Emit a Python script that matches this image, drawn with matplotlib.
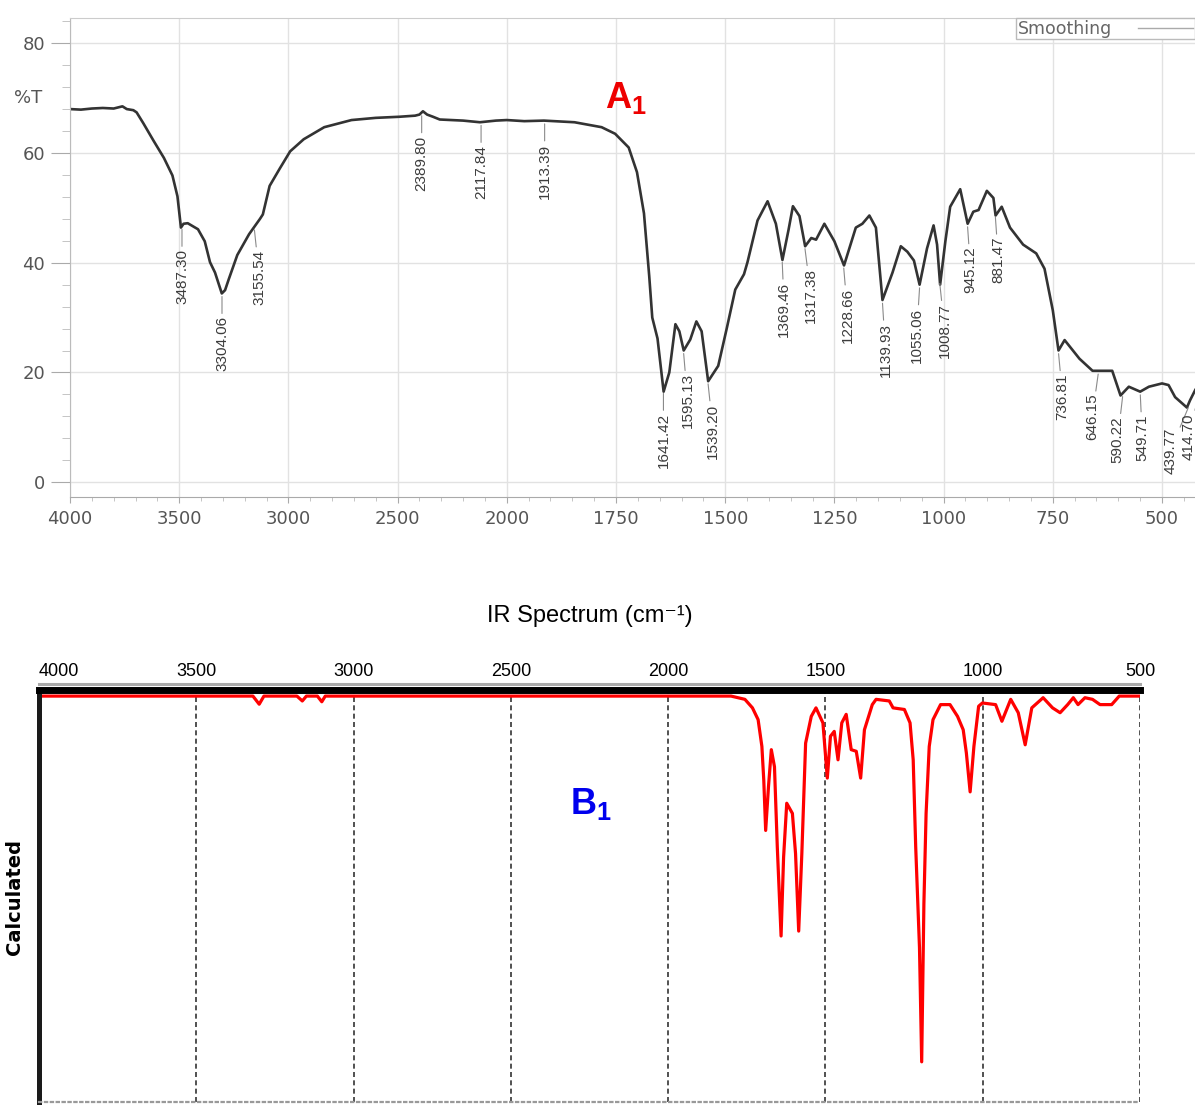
import matplotlib
matplotlib.use("Agg")
import matplotlib.pyplot as plt
import numpy as np
from matplotlib.lines import Line2D
from matplotlib.ticker import FixedLocator, MultipleLocator

plt.rcParams['mathtext.fontset'] = 'custom'
plt.rcParams['mathtext.rm'] = 'Liberation Sans'
plt.rcParams['mathtext.bf'] = 'Liberation Sans:bold'

NARROW = ['Liberation Sans', 'DejaVu Sans']
W, H = 1195, 1106

# --- A1: measured FTIR spectrum (%T) ---
a_wn = [4000, 3950, 3900, 3850, 3800, 3760, 3740, 3710, 3695, 3664, 3617, 3570,
        3531, 3508, 3492, 3480, 3461, 3414, 3383, 3359, 3336, 3305, 3290, 3273,
        3234, 3180, 3155, 3130, 3117, 3086, 3039, 2992, 2930, 2836, 2711, 2600,
        2492, 2420, 2400, 2384, 2365, 2338, 2307, 2200, 2123, 2050, 2000, 1960,
        1915, 1845, 1783, 1752, 1721, 1702, 1686, 1674, 1667, 1655, 1641, 1628,
        1614, 1605, 1595, 1580, 1566, 1554, 1539, 1516, 1496, 1477, 1457, 1449,
        1426, 1403, 1384, 1369, 1355, 1345, 1330, 1317, 1303, 1292, 1273, 1250,
        1228, 1201, 1186, 1170, 1155, 1140, 1117, 1098, 1083, 1068, 1055, 1038,
        1023, 1015, 1008, 996, 985, 962, 945, 932, 920, 901, 886, 881,
        867, 848, 818, 788, 769, 750, 737, 723, 689, 659, 636, 614,
        595, 576, 550, 530, 500, 485, 470, 443, 436, 424]
a_T = [68.0, 67.9, 68.1, 68.2, 68.1, 68.5, 68.0, 67.8, 67.4, 65.4, 62.2, 59.1,
       55.9, 52.1, 46.4, 47.1, 47.2, 46.1, 43.9, 40.1, 38.2, 34.4, 35.0, 37.0,
       41.4, 45.2, 46.6, 48.0, 48.8, 54.0, 57.2, 60.3, 62.5, 64.7, 66.0, 66.4,
       66.6, 66.8, 67.0, 67.6, 67.0, 66.6, 66.1, 65.9, 65.6, 65.9, 66.0, 65.8,
       65.9, 65.6, 64.7, 63.5, 61.0, 56.5, 49.0, 37.6, 30.0, 26.2, 16.5, 20.0,
       28.8, 27.5, 24.0, 26.0, 29.3, 27.5, 18.4, 21.2, 28.2, 35.1, 37.9, 40.1,
       47.7, 51.2, 47.1, 40.5, 46.0, 50.3, 48.5, 43.0, 44.5, 44.2, 47.1, 43.9,
       39.5, 46.4, 47.1, 48.6, 46.4, 33.2, 38.2, 43.0, 42.0, 40.4, 36.0, 42.6,
       46.8, 43.3, 36.0, 43.9, 50.2, 53.4, 47.1, 49.3, 49.6, 53.1, 51.8, 48.6,
       50.2, 46.4, 43.3, 41.7, 38.9, 31.3, 24.0, 25.9, 22.5, 20.3, 20.3, 20.3,
       15.8, 17.4, 16.5, 17.4, 18.0, 17.7, 15.5, 13.6, 14.9, 16.8]

peak_wn = [3487.30, 3304.06, 3155.54, 2389.80, 2117.84, 1913.39, 1641.42, 1595.13,
           1539.20, 1369.46, 1317.38, 1228.66, 1139.93, 1055.06, 1008.77, 945.12,
           881.47, 736.81, 646.15, 590.22, 549.71, 439.77, 414.70]
# horizontal nudge of each label, in pixels
label_dx = [0, 0, 5, 0, 0, 0, 0, 4, 5, 2, 6, 4, 3, -3, 5, 3, 3, 4, -6, -5, 2, -18, -11]

# --- B1: calculated IR spectrum ---
b_wn = [4000, 3320, 3300, 3285, 3180, 3163, 3150, 3115, 3101, 3090, 1800, 1756,
        1732, 1714, 1702, 1696, 1690, 1681, 1672, 1662, 1653, 1641, 1633, 1623,
        1605, 1595, 1585, 1575, 1563, 1545, 1530, 1508, 1494, 1484, 1472, 1460,
        1448, 1434, 1418, 1402, 1388, 1376, 1351, 1339, 1297, 1285, 1249, 1231,
        1221, 1213, 1201, 1194, 1187, 1180, 1170, 1158, 1134, 1104, 1080, 1062,
        1052, 1040, 1028, 1013, 1001, 959, 939, 911, 887, 865, 844, 808,
        778, 754, 730, 712, 697, 675, 651, 627, 590, 566, 500]
b_int = [0, 0, 2.0, 0, 0, 1.2, 0, 0, 1.4, 0, 0, 0.8,
         2.9, 5.8, 12.4, 20.7, 33.1, 22.3, 13.2, 17.4, 37.2, 59.1, 39.7, 26.4,
         28.9, 38.8, 57.9, 38.8, 11.6, 5.0, 2.9, 6.6, 20.2, 9.9, 8.7, 15.7,
         6.6, 4.5, 13.2, 13.6, 20.2, 8.3, 2.1, 0.8, 1.2, 2.9, 3.3, 6.6,
         15.7, 37.2, 62.0, 90.1, 51.2, 28.9, 12.4, 5.8, 2.1, 2.1, 5.0, 8.3,
         14.0, 23.6, 12.4, 2.5, 1.7, 2.1, 6.2, 0.8, 4.1, 12.0, 2.9, 0.4,
         2.9, 4.1, 2.1, 0.4, 2.1, 0.4, 0.8, 2.1, 2.1, 0, 0]

a_major = [4000, 3500, 3000, 2500, 2000, 1750, 1500, 1250, 1000, 750, 500]
a_minor = list(range(4000, 2000, -100)) + list(range(2000, 400, -50))
b_major = [4000, 3500, 3000, 2500, 2000, 1500, 1000, 500]


def fwd(w):
    w = np.asarray(w, float)
    return np.where(w >= 2000, w, 2 * w - 2000)


def inv(u):
    u = np.asarray(u, float)
    return np.where(u >= 2000, u, (u + 2000) / 2)


fig = plt.figure(figsize=(W / 100, H / 100), dpi=100)

# ---------------- top panel ----------------
ax1 = fig.add_axes([70 / W, 1 - 497 / H, (W - 70) / W, (497 - 18) / H])
ax1.set_xscale('function', functions=(fwd, inv))
ax1.plot(a_wn, a_T, color='#333333', lw=1.9, label='Smoothing')
ax1.set_xlim(4000, 424.5)
ax1.set_ylim(-2.7, 84.6)

ax1.xaxis.set_major_locator(FixedLocator(a_major))
ax1.xaxis.set_minor_locator(FixedLocator(a_minor))
ax1.yaxis.set_major_locator(FixedLocator([0, 20, 40, 60, 80]))
ax1.yaxis.set_minor_locator(MultipleLocator(4))
ax1.xaxis.set_major_formatter(matplotlib.ticker.FuncFormatter(lambda v, p: f"{v:.0f}"))

ax1.grid(True, which='major', color='#e2e2e2', lw=1)
for t in ax1.xaxis.get_major_ticks():
    if abs(t.get_loc() - 2000) < 1:
        t.gridline.set_color('#a0a0a0')
        t.gridline.set_linewidth(1.2)

ax1.tick_params(axis='y', which='major', length=14, pad=4, color='#aaaaaa',
                labelsize=13, labelcolor='#555555')
ax1.tick_params(axis='y', which='minor', length=6, color='#bbbbbb')
ax1.tick_params(axis='x', which='major', length=4, pad=5.5, color='#aaaaaa',
                labelsize=13, labelcolor='#555555')
ax1.tick_params(axis='x', which='minor', length=3, color='#bbbbbb')
ax1.spines['left'].set_color('#bbbbbb')
ax1.spines['top'].set_color('#cccccc')
ax1.spines['bottom'].set_color('#aaaaaa')
ax1.spines['right'].set_visible(False)

ax1.text(-0.0373, 70, '%T', transform=ax1.get_yaxis_transform(), ha='center',
         va='center', color='#555555', fontsize=13)

order = np.argsort(a_wn)
wn_sorted = np.asarray(a_wn, float)[order]
t_sorted = np.asarray(a_T, float)[order]
for p, dx in zip(peak_wn, label_dx):
    tc = np.interp(p, wn_sorted, t_sorted)
    ax1.annotate(f"{p:.2f}", xy=(p, tc - 0.6), xytext=(dx * 0.72, -14.2),
                 textcoords='offset points', rotation=90, ha='center', va='top',
                 fontsize=11, family=NARROW, color='#3c3c3c',
                 annotation_clip=False,
                 arrowprops=dict(arrowstyle='-', color='#8a8a8a', lw=0.8,
                                 shrinkA=0, shrinkB=0))

ax1.text(1775, 68.2, r'$\mathbf{A_1}$', color='#ee0000', fontsize=26,
         ha='left', va='baseline')

ax1.legend(handles=[Line2D([], [], color='#aaaaaa', lw=1)], labels=['Smoothing'],
           loc='upper right', bbox_to_anchor=(1.0, 1.0), borderaxespad=0,
           markerfirst=False, fancybox=False, edgecolor='#bbbbbb', framealpha=1,
           fontsize=12.5, labelcolor='#666666', handlelength=3.2, borderpad=0.1,
           handletextpad=1.5)

# ---------------- bottom panel ----------------
ax2 = fig.add_axes([39 / W, 1 - 1102 / H, (1140 - 39) / W, (1102 - 690) / H])
ax2.plot(b_wn, b_int, color='#ff0000', lw=2.3)
ax2.set_xlim(4000, 500)
ax2.set_ylim(100, -1.5)
ax2.xaxis.tick_top()
ax2.xaxis.set_label_position('top')
ax2.set_xticks(b_major)
ax2.set_yticks([])
ax2.tick_params(axis='x', length=0, pad=7, labelsize=13, labelcolor='black')
for lab in ax2.get_xticklabels():
    lab.set_fontfamily(NARROW)
ax2.get_xticklabels()[0].set_ha('left')
ax2.grid(True, axis='x', color='#333333', ls=(0, (3, 2)), lw=1.2)

ax2.spines['left'].set_color('#1a1a1a')
ax2.spines['left'].set_linewidth(3.6)
ax2.spines['top'].set_color('black')
ax2.spines['top'].set_linewidth(5)
ax2.spines['right'].set_visible(False)
ax2.spines['bottom'].set_color('#999999')
ax2.spines['bottom'].set_linewidth(1.6)
ax2.spines['bottom'].set_linestyle(':')
ax2.add_line(Line2D([0, 1], [1.0146, 1.0146], transform=ax2.transAxes,
                    color='#aaaaaa', lw=2.2, clip_on=False))

ax2.set_xlabel('IR Spectrum (cm⁻¹)', fontsize=17, family=NARROW, labelpad=30)
ax2.set_ylabel('Calculated', fontsize=14, fontweight='bold')
ax2.yaxis.set_label_coords(-0.0136, 0.4976)

ax2.text(2312, 29.1, r'$\mathbf{B_1}$', color='#0000ee', fontsize=26,
         ha='left', va='baseline')

fig.savefig('out.png', dpi=100)
